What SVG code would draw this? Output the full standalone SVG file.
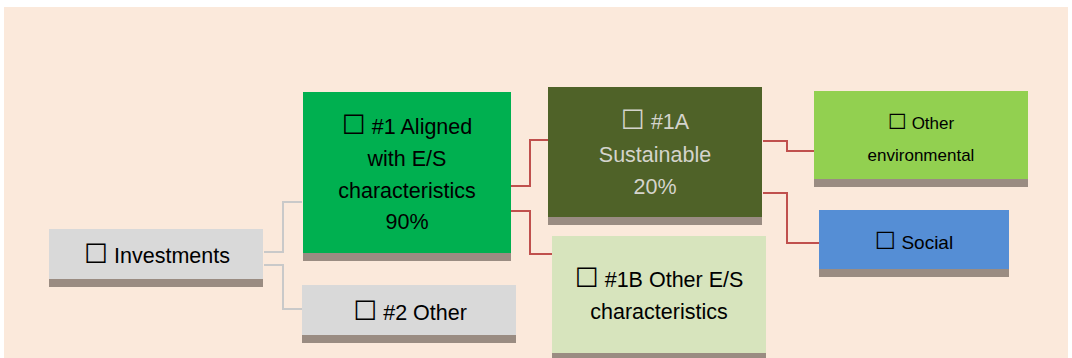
<svg xmlns="http://www.w3.org/2000/svg" width="1072" height="358" viewBox="0 0 1072 358">
  <style>
    .t { font-family: "Liberation Sans", "DejaVu Sans", sans-serif; font-size: 21.5px; fill: #000; text-anchor: middle; }
    .bx { font-family: "DejaVu Sans", sans-serif; font-size: 1.25em; }
    .light { fill: #D4D4CC; }
    .small { font-size: 17px; }
    .soc { font-size: 19px; }
    .shadow { fill: #9A8C82; }
    .gray-link { fill: none; stroke: #C9C9C9; stroke-width: 2; }
    .red-link { fill: none; stroke: #C0504D; stroke-width: 2; }
  </style>
  <rect x="0" y="0" width="1072" height="358" fill="#FFFFFF"/>
  <rect x="4" y="7" width="1064" height="351" fill="#FBE9DB"/>

  <g id="connectors">
    <polyline class="gray-link" points="264,252 283,252 283,202 302,202"/>
    <polyline class="gray-link" points="264,265 283,265 283,309 302,309"/>
    <polyline class="red-link" points="511,186 530,186 530,140 548,140"/>
    <polyline class="red-link" points="509,211 530,211 530,254 552,254"/>
    <polyline class="red-link" points="763,141 787,141 787,151 814,151"/>
    <polyline class="red-link" points="763,193 787,193 787,243 819,243"/>
  </g>

  <g id="investments">
    <rect x="49" y="229" width="214" height="50" fill="#D9D9D9"/>
    <rect class="shadow" x="49" y="279" width="214" height="8"/>
    <text class="t" x="157" y="263"><tspan class="bx">☐</tspan> Investments</text>
  </g>

  <g id="aligned">
    <rect x="303" y="92" width="208" height="161" fill="#00B050"/>
    <rect class="shadow" x="303" y="253" width="208" height="8"/>
    <text class="t" x="407" y="134"><tspan class="bx">☐</tspan> #1 Aligned</text>
    <text class="t" x="407" y="166">with E/S</text>
    <text class="t" x="407" y="198">characteristics</text>
    <text class="t" x="407" y="229">90%</text>
  </g>

  <g id="other2">
    <rect x="302" y="285" width="214" height="50" fill="#D9D9D9"/>
    <rect class="shadow" x="302" y="335" width="214" height="8"/>
    <text class="t" x="410" y="320"><tspan class="bx">☐</tspan> #2 Other</text>
  </g>

  <g id="sustainable">
    <rect x="548" y="87" width="214" height="130" fill="#4F6228"/>
    <rect class="shadow" x="548" y="217" width="214" height="8"/>
    <text class="t light" x="655" y="129"><tspan class="bx">☐</tspan> #1A</text>
    <text class="t light" x="655" y="162">Sustainable</text>
    <text class="t light" x="655" y="194">20%</text>
  </g>

  <g id="other-es">
    <rect x="552" y="236" width="214" height="117" fill="#D7E4BD"/>
    <rect class="shadow" x="552" y="353" width="214" height="8"/>
    <text class="t" x="659" y="287"><tspan class="bx">☐</tspan> #1B Other E/S</text>
    <text class="t" x="659" y="319">characteristics</text>
  </g>

  <g id="other-env">
    <rect x="814" y="91" width="214" height="88" fill="#92D050"/>
    <rect class="shadow" x="814" y="179" width="214" height="8"/>
    <text class="t small" x="921" y="129"><tspan class="bx">☐</tspan> Other</text>
    <text class="t small" x="921" y="161">environmental</text>
  </g>

  <g id="social">
    <rect x="819" y="210" width="190" height="59" fill="#558ED5"/>
    <rect class="shadow" x="819" y="269" width="190" height="8"/>
    <text class="t soc" x="914" y="249"><tspan class="bx">☐</tspan> Social</text>
  </g>
</svg>
